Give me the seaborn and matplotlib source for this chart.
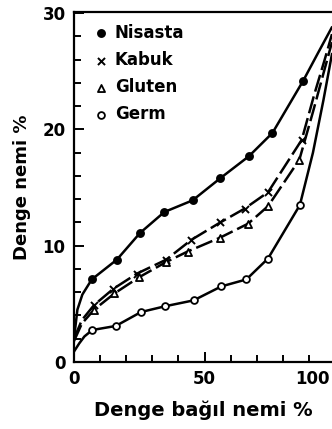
import numpy as np
import pandas as pd
import matplotlib
matplotlib.use('Agg')
import matplotlib.pyplot as plt
import seaborn as sns

## ============================== ##
## values

labels = ['Nisasta', 'Kabuk', 'Gluten', 'Germ']

rh_nisasta = [6.8, 16.4, 25.3, 34.6, 45.4, 56.0, 67.0, 76.0, 87.8]
m_nisasta = [7.1, 8.8, 11.1, 12.9, 13.9, 15.8, 17.7, 19.7, 24.2]
rh_kabuk = [7.7, 15.1, 24.1, 35.3, 44.9, 56.0, 65.4, 74.3, 87.2]
m_kabuk = [4.9, 6.3, 7.6, 8.8, 10.5, 12.0, 13.2, 14.6, 19.1]
rh_gluten = [7.7, 15.5, 25.0, 35.3, 43.5, 56.0, 66.7, 74.3, 86.3]
m_gluten = [4.5, 5.9, 7.3, 8.6, 9.5, 10.7, 11.9, 13.4, 17.4]
rh_germ = [7.0, 16.0, 25.7, 35.0, 45.8, 56.4, 66.0, 74.3, 86.5]
m_germ = [2.75, 3.1, 4.3, 4.8, 5.3, 6.5, 7.1, 8.9, 13.5]

# drawn curves (incl. the parts beyond the points)
curve_nisasta_rh = [0, 1.3, 3.2] + rh_nisasta + [93.5, 98.8]
curve_nisasta_m = [2.0, 4.5, 5.8] + m_nisasta + [26.6, 28.8]
curve_kabuk_rh = [0, 3.0] + rh_kabuk + [92.0, 96.0, 98.8]
curve_kabuk_m = [2.0, 3.6] + m_kabuk + [23.0, 26.0, 28.2]
curve_gluten_rh = [0, 3.0] + rh_gluten + [91.5, 95.5, 98.8]
curve_gluten_m = [1.8, 3.3] + m_gluten + [21.5, 24.8, 27.5]
curve_germ_rh = [0, 2.0, 4.0] + rh_germ + [91.5, 95.5, 98.8]
curve_germ_m = [0.9, 1.6, 2.2] + m_germ + [18.0, 22.5, 26.5]

xtick_labels = ['0', '50', '100']

## ============================== ##

sns.set_style('ticks')
plt.rcParams['font.family'] = ['DejaVu Sans']
plt.rcParams['font.weight'] = 'bold'
for k in ['text.color', 'axes.labelcolor', 'xtick.color', 'ytick.color', 'axes.edgecolor']:
	plt.rcParams[k] = 'black'

fig = plt.figure(figsize=(3.32, 4.29), dpi=100)
ax = fig.add_axes([74/332., 1 - 362/429., 1 - 74/332., (362 - 12)/429.])

curves = [
	(curve_nisasta_rh, curve_nisasta_m, '-'),
	(curve_kabuk_rh, curve_kabuk_m, (0, (7, 2))),
	(curve_gluten_rh, curve_gluten_m, (0, (7, 2))),
	(curve_germ_rh, curve_germ_m, '-'),
]
for cx, cy, ls in curves:
	sns.lineplot(x=cx, y=cy, ax=ax, color='black', lw=1.8, sort=False,
			estimator=None, legend=False)
	ax.lines[-1].set_linestyle(ls)

points = [
	(rh_nisasta, m_nisasta, 'o', 'black', 26),
	(rh_kabuk, m_kabuk, 'x', 'black', 26),
	(rh_gluten, m_gluten, '^', 'white', 26),
	(rh_germ, m_germ, 'o', 'white', 24),
]
for lab, (px, py, mk, fc, s) in zip(labels, points):
	if mk == 'x':
		sns.scatterplot(x=px, y=py, ax=ax, marker=mk, color='black', s=s,
				linewidth=1.4, label=lab, zorder=5)
	else:
		sns.scatterplot(x=px, y=py, ax=ax, marker=mk, facecolor=fc,
				edgecolor='black', s=s, linewidth=1.3, label=lab, zorder=5)

leg = ax.legend(loc='upper left', bbox_to_anchor=(0.035, 0.995), frameon=False,
		handletextpad=0.3, labelspacing=0.55, borderaxespad=0.2,
		prop={'size': 12, 'weight': 'bold'}, handlelength=1.0)

ax.set_xlim(0, 98.8)
ax.set_ylim(0, 30.1)
ax.set_xticks([0, 50])
ax.set_xticklabels(xtick_labels[:2])
ax.set_xticks(np.arange(10, 100, 10), minor=True)
ax.set_yticks([0, 10, 20, 30])
ax.set_yticks(np.arange(2, 30, 2), minor=True)
ax.tick_params(axis='both', which='both', direction='in', width=1.4,
		labelsize=12, pad=6)
ax.tick_params(axis='both', which='major', length=7)
ax.tick_params(axis='both', which='minor', length=5)
for t in ax.get_xticklabels() + ax.get_yticklabels():
	t.set_fontweight('bold')

# the last x label sits at the cropped right edge
ax.annotate(xtick_labels[2], xy=(100, 0), xycoords=('data', 'axes fraction'),
		xytext=(-16, -6), textcoords='offset points', ha='center', va='top',
		size=12, weight='bold', annotation_clip=False)

ax.set_xlabel('Denge bağıl nemi %', fontsize=14, fontweight='bold', labelpad=9)
ax.set_ylabel('Denge nemi %', fontsize=13, fontweight='bold', labelpad=8)

for side in ['left', 'bottom', 'top']:
	ax.spines[side].set_linewidth(1.6)
ax.spines['right'].set_visible(False)

fig.savefig('out.png', dpi=100)
